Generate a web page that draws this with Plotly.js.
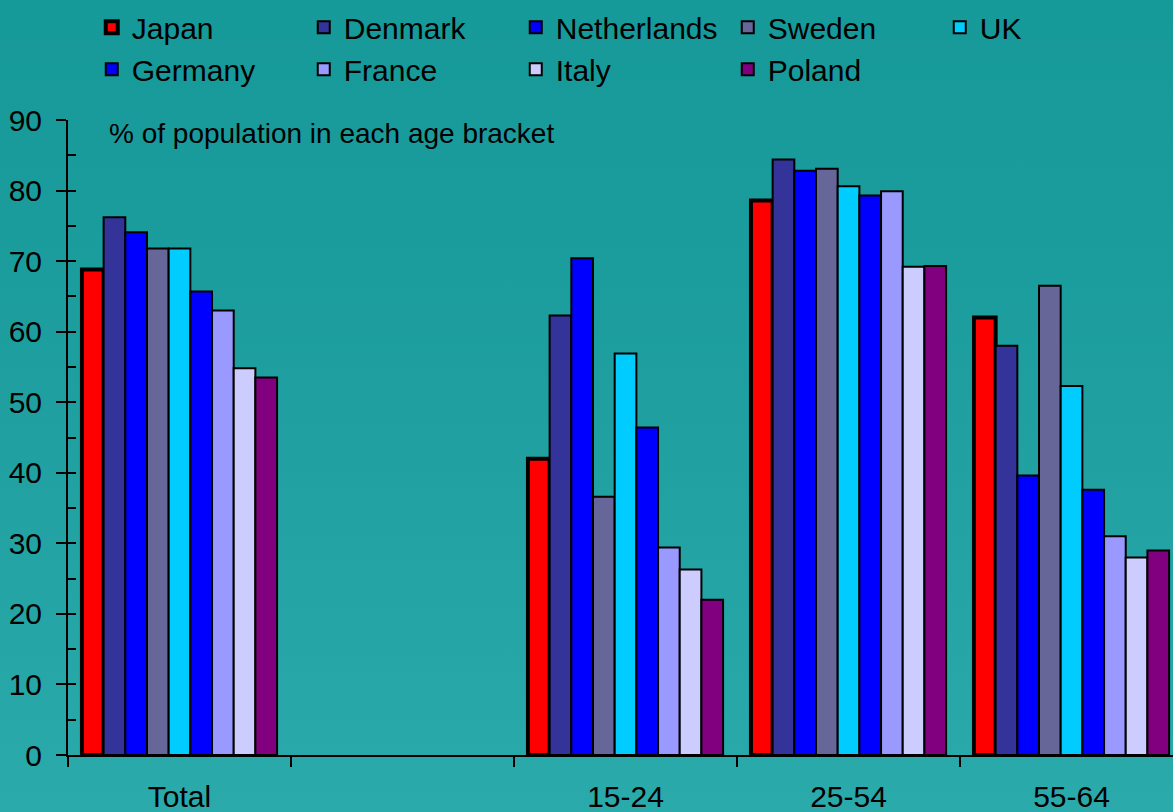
<!DOCTYPE html>
<html>
<head>
<meta charset="utf-8">
<script src="https://cdn.plot.ly/plotly-3.0.1.min.js"></script>
<style>
  html, body { margin:0; padding:0; }
  #chart { width:1173px; height:812px; background: linear-gradient(to bottom, #169999 0%, #1f9f9f 50%, #2aaaaa 100%); }
</style>
</head>
<body>
<div id="chart"></div>
<script>
const categories = ["Total", " ", "15-24", "25-54", "55-64"];
const countries = ["Japan", "Denmark", "Netherlands", "Sweden", "UK", "Germany", "France", "Italy", "Poland"];
const colors = ["#FF0000", "#333399", "#0000FF", "#666699", "#00CCFF", "#0000FF", "#9999FF", "#CCCCFF", "#800080"];
const japan       = [68.8, null, 42.0, 78.6, 62.0];
const denmark     = [76.2, null, 62.3, 84.4, 58.0];
const netherlands = [74.1, null, 70.4, 82.8, 39.6];
const sweden      = [71.8, null, 36.6, 83.1, 66.5];
const uk          = [71.8, null, 56.9, 80.6, 52.3];
const germany     = [65.7, null, 46.4, 79.3, 37.6];
const france      = [63.0, null, 29.4, 79.9, 31.0];
const italy       = [54.8, null, 26.3, 69.2, 28.0];
const poland      = [53.5, null, 22.0, 69.3, 29.0];
const series = [japan, denmark, netherlands, sweden, uk, germany, france, italy, poland];
const noteText = "% of population in each age bracket";

const font = "Liberation Sans, Arial, sans-serif";
const traces = series.map((vals, i) => ({
  type: "bar",
  name: countries[i],
  x: categories,
  y: vals,
  marker: { color: colors[i], line: { color: "#000000", width: i === 0 ? 4 : 2 } },
  hoverinfo: "skip"
}));

const layout = {
  width: 1173, height: 812,
  paper_bgcolor: "rgba(0,0,0,0)",
  plot_bgcolor: "rgba(0,0,0,0)",
  margin: { l: 68, r: 0, t: 120, b: 57 },
  barmode: "group",
  bargap: 0.125,
  bargroupgap: 0,
  font: { family: font, size: 30, color: "#000000" },
  showlegend: true,
  legend: {
    orientation: "h", x: 0.0215, xanchor: "left", y: 1.187, yanchor: "top",
    entrywidth: 167, entrywidthmode: "pixels",
    font: { family: font, size: 30, color: "#000000" },
    bgcolor: "rgba(0,0,0,0)", traceorder: "normal", itemwidth: 30,
    tracegroupgap: 0
  },
  xaxis: {
    type: "category", categoryorder: "array", categoryarray: categories,
    range: [-0.5, 4.455],
    showline: true, linecolor: "#000000", linewidth: 2,
    ticks: "outside", ticklen: 10, tickwidth: 2, tickcolor: "#000000",
    tickson: "boundaries", ticklabelstandoff: 14,
    showgrid: false, zeroline: false,
    tickfont: { family: font, size: 30, color: "#000000" }
  },
  yaxis: {
    range: [0, 90], dtick: 10, tick0: 0,
    showline: true, linecolor: "#000000", linewidth: 2,
    ticks: "outside", ticklen: 10, tickwidth: 2, tickcolor: "#000000",
    ticklabelstandoff: 8,
    showgrid: false, zeroline: false,
    tickfont: { family: font, size: 30, color: "#000000" }
  },
  yaxis2: {
    overlaying: "y", side: "left", range: [0, 90], dtick: 5, tick0: 0,
    ticks: "inside", ticklen: 8, tickwidth: 2, tickcolor: "#000000",
    showticklabels: false, showgrid: false, zeroline: false, showline: false
  },
  annotations: [{
    xref: "paper", yref: "paper", x: 0.035, y: 0.978, xanchor: "left", yanchor: "middle",
    text: noteText, showarrow: false,
    font: { family: font, size: 28, color: "#000000" }
  }]
};

// invisible trace to activate yaxis2 ticks
traces.push({ type: "scatter", x: [categories[0]], y: [null], yaxis: "y2", showlegend: false, hoverinfo: "skip" });

Plotly.newPlot("chart", traces, layout, { displayModeBar: false, staticPlot: true });
</script>
</body>
</html>
